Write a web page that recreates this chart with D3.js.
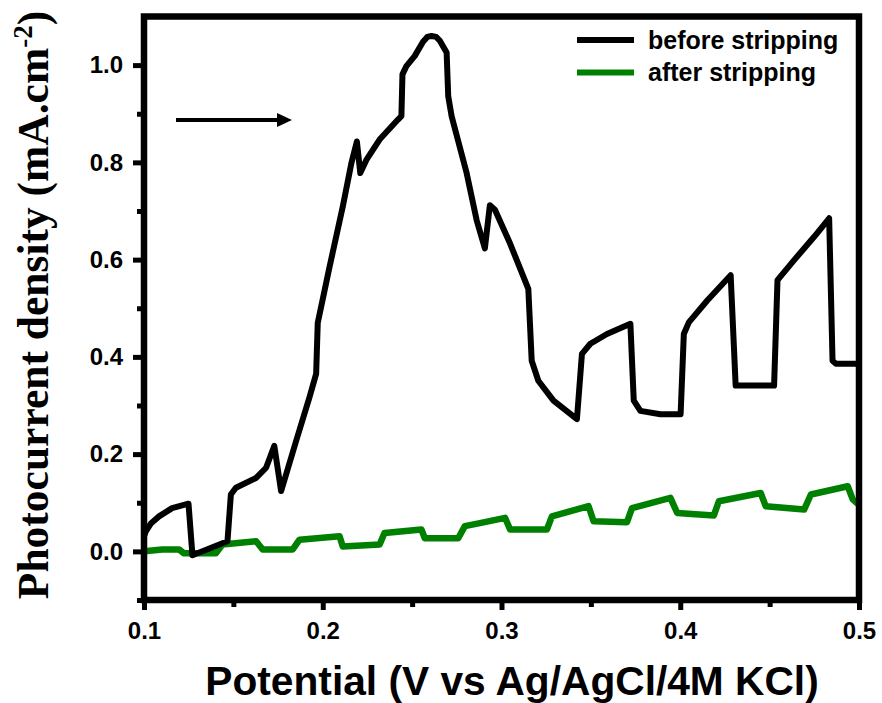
<!DOCTYPE html>
<html>
<head>
<meta charset="utf-8">
<script src="https://cdn.jsdelivr.net/npm/d3@7"></script>
<style>
  html, body { margin: 0; padding: 0; background: #fff; }
  svg { display: block; }
</style>
</head>
<body>
<script>
// ---- data ----
const beforeV = [0.100, 0.101, 0.104, 0.1084, 0.1157, 0.1249, 0.1271, 0.1467, 0.1486, 0.1514, 0.1627, 0.1683, 0.1729, 0.1767, 0.1851, 0.1926, 0.1963, 0.1972, 0.2038, 0.2112, 0.2160, 0.2191, 0.2210, 0.2244, 0.2318, 0.2421, 0.2440, 0.2446, 0.2468, 0.2515, 0.2561, 0.2585, 0.2608, 0.2635, 0.2655, 0.2693, 0.2702, 0.2721, 0.2805, 0.2861, 0.2907, 0.2935, 0.2964, 0.3048, 0.3150, 0.3169, 0.3206, 0.3291, 0.3422, 0.3450, 0.3497, 0.3590, 0.3721, 0.3740, 0.3777, 0.3889, 0.4002, 0.4020, 0.4048, 0.4151, 0.4282, 0.4310, 0.4525, 0.4544, 0.4637, 0.4749, 0.4833, 0.4852, 0.4871, 0.4983, 0.500];
const beforeJ = [0.031, 0.041, 0.058, 0.072, 0.089, 0.098, -0.008, 0.021, 0.117, 0.131, 0.151, 0.172, 0.217, 0.124, 0.227, 0.317, 0.365, 0.470, 0.585, 0.709, 0.798, 0.843, 0.778, 0.805, 0.847, 0.888, 0.895, 0.981, 0.998, 1.019, 1.048, 1.058, 1.060, 1.058, 1.050, 1.026, 0.936, 0.895, 0.778, 0.681, 0.623, 0.712, 0.702, 0.633, 0.540, 0.392, 0.351, 0.310, 0.272, 0.406, 0.427, 0.447, 0.468, 0.310, 0.289, 0.282, 0.282, 0.447, 0.471, 0.516, 0.568, 0.341, 0.341, 0.558, 0.599, 0.647, 0.685, 0.392, 0.386, 0.386, 0.383];

const afterV = [0.100, 0.1103, 0.1196, 0.1224, 0.1402, 0.1439, 0.1627, 0.1664, 0.1832, 0.1870, 0.2094, 0.2112, 0.2318, 0.2346, 0.2552, 0.2571, 0.2758, 0.2795, 0.2879, 0.3020, 0.3048, 0.3254, 0.3282, 0.3487, 0.3515, 0.3702, 0.3730, 0.3945, 0.3983, 0.4188, 0.4216, 0.4450, 0.4478, 0.4693, 0.4731, 0.4937, 0.4965, 0.4993];
const afterJ = [0.000, 0.004, 0.004, -0.004, -0.004, 0.014, 0.021, 0.004, 0.004, 0.024, 0.031, 0.010, 0.014, 0.038, 0.045, 0.027, 0.027, 0.052, 0.058, 0.069, 0.045, 0.045, 0.072, 0.093, 0.062, 0.060, 0.089, 0.110, 0.079, 0.074, 0.103, 0.120, 0.093, 0.086, 0.117, 0.134, 0.107, 0.098];

const xTicks = [0.1, 0.2, 0.3, 0.4, 0.5];
const xMinorTicks = [0.15, 0.25, 0.35, 0.45];
const yTicks = [0.0, 0.2, 0.4, 0.6, 0.8, 1.0];
const yMinorTicks = [-0.1, 0.1, 0.3, 0.5, 0.7, 0.9];
const seriesNames = ["before stripping", "after stripping"];
const seriesColors = ["#000000", "#008000"];
const xTitle = "Potential (V vs Ag/AgCl/4M KCl)";

// ---- layout ----
const W = 882, H = 703;
const mLeft = 144, mRight = 859, mTop = 16.5, mBottom = 600;

const svg = d3.select("body").append("svg").attr("width", W).attr("height", H);

const x = d3.scaleLinear().domain([0.1, 0.5]).range([mLeft, mRight]);
const y = d3.scaleLinear().domain([-0.1, 1.1]).range([mBottom, mTop]);

const sans = "'Liberation Sans', Arial, sans-serif";
const serif = "'Liberation Serif', 'Times New Roman', serif";

svg.append("clipPath").attr("id", "clip").append("rect")
  .attr("x", mLeft).attr("y", mTop).attr("width", mRight - mLeft).attr("height", mBottom - mTop);

const line = d3.line().x(d => x(d[0])).y(d => y(d[1]));

const gData = svg.append("g").attr("clip-path", "url(#clip)");
gData.append("path")
  .datum(afterV.map((v, i) => [v, afterJ[i]]))
  .attr("d", line).attr("fill", "none")
  .attr("stroke", seriesColors[1]).attr("stroke-width", 6.5)
  .attr("stroke-linejoin", "round").attr("stroke-linecap", "butt");
gData.append("path")
  .datum(beforeV.map((v, i) => [v, beforeJ[i]]))
  .attr("d", line).attr("fill", "none")
  .attr("stroke", seriesColors[0]).attr("stroke-width", 6)
  .attr("stroke-linejoin", "round").attr("stroke-linecap", "butt");

// frame
svg.append("rect").attr("x", mLeft).attr("y", mTop)
  .attr("width", mRight - mLeft).attr("height", mBottom - mTop)
  .attr("fill", "none").attr("stroke", "#000").attr("stroke-width", 6.5);

function styleAxis(g) {
  g.select(".domain").remove();
  g.selectAll(".tick line").attr("stroke", "#000").attr("stroke-width", 5);
  g.selectAll(".tick text").attr("fill", "#000")
    .style("font-family", sans).style("font-weight", "bold").style("font-size", "24px");
}

const xAxis = svg.append("g").attr("transform", `translate(0,${mBottom})`)
  .call(d3.axisBottom(x).tickValues(xTicks).tickSize(10).tickPadding(12).tickFormat(d3.format(".1f")));
styleAxis(xAxis);
const xAxisMinor = svg.append("g").attr("transform", `translate(0,${mBottom})`)
  .call(d3.axisBottom(x).tickValues(xMinorTicks).tickSize(7).tickFormat(""));
styleAxis(xAxisMinor);

const yAxis = svg.append("g").attr("transform", `translate(${mLeft},0)`)
  .call(d3.axisLeft(y).tickValues(yTicks).tickSize(11).tickPadding(10).tickFormat(d3.format(".1f")));
styleAxis(yAxis);
const yAxisMinor = svg.append("g").attr("transform", `translate(${mLeft},0)`)
  .call(d3.axisLeft(y).tickValues(yMinorTicks).tickSize(7).tickFormat(""));
styleAxis(yAxisMinor);

// axis titles
svg.append("text").attr("x", 512).attr("y", 695)
  .attr("text-anchor", "middle")
  .style("font-family", sans).style("font-weight", "bold").style("font-size", "40.7px")
  .text(xTitle);

const yt = svg.append("text")
  .attr("transform", `translate(48,305) rotate(-90)`)
  .attr("text-anchor", "middle")
  .style("font-family", serif).style("font-weight", "bold").style("font-size", "43.5px");
yt.append("tspan").text("Photocurrent density (mA.cm");
yt.append("tspan").attr("dy", -16).style("font-size", "27px").text("-2");
yt.append("tspan").attr("dy", 16).text(")");

// legend
const legendY = [40, 72.5];
seriesNames.forEach((name, i) => {
  svg.append("line").attr("x1", 577).attr("x2", 634)
    .attr("y1", legendY[i]).attr("y2", legendY[i])
    .attr("stroke", seriesColors[i]).attr("stroke-width", 6);
  svg.append("text").attr("x", 648).attr("y", legendY[i] + 8.5)
    .style("font-family", sans).style("font-weight", "bold").style("font-size", "25px")
    .text(name);
});

// arrow
svg.append("line").attr("x1", 176).attr("x2", 280).attr("y1", 120).attr("y2", 120)
  .attr("stroke", "#000").attr("stroke-width", 4);
svg.append("path").attr("d", "M277,113 L292,120 L277,127 Z").attr("fill", "#000");
</script>
</body>
</html>
